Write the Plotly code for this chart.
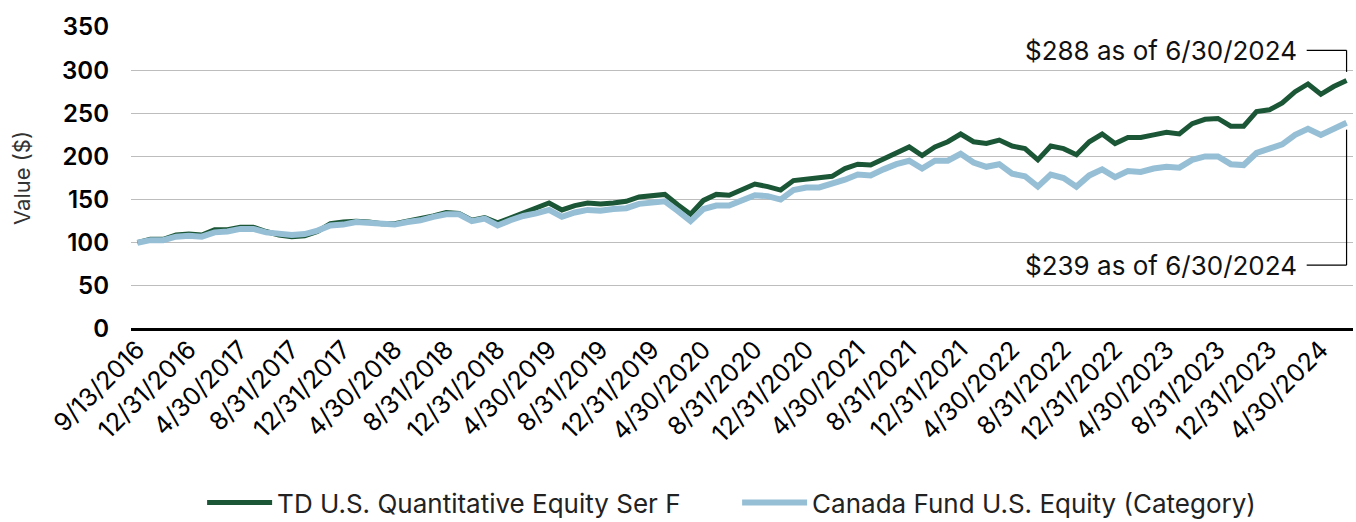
import pandas as pd
import plotly.graph_objects as go

# Category axis: inception date, then month-ends
dates = ["9/13/2016"] + [f"{d.month}/{d.day}/{d.year}" for d in
                         pd.date_range("2016-09-30", "2024-06-30", freq="ME")]

fund_name = "TD U.S. Quantitative Equity Ser F"
cat_name = "Canada Fund U.S. Equity (Category)"

fund_values = [
    100, 104, 104, 109, 110, 109, 115, 115, 118, 118, 113, 109, 107, 108, 113, 122,
    124, 125, 124, 122, 122, 125, 127, 131, 135, 134, 126, 129, 123, 129, 135,
    140, 146, 138, 143, 146, 145, 146, 148, 153, 154, 156, 144, 133, 149, 156, 155, 162,
    168, 165, 161, 172, 174, 175, 177, 186, 191, 190, 197, 204, 211, 201, 211,
    217, 226, 217, 215, 219, 212, 209, 196, 212, 209, 202, 217, 226, 215, 222, 222,
    225, 228, 226, 238, 243, 244, 235, 235, 252, 254, 262, 275, 284, 272, 281, 288,
]
category_values = [
    100, 103, 103, 107, 108, 107, 112, 113, 116, 116, 112, 110, 109, 110, 114, 120,
    121, 124, 123, 121, 121, 124, 126, 130, 133, 133, 125, 128, 120, 126, 131,
    134, 138, 130, 135, 138, 137, 139, 140, 145, 146, 148, 137, 125, 139, 143, 143, 149,
    155, 154, 150, 161, 164, 164, 168, 173, 179, 178, 185, 191, 195, 186, 195,
    195, 203, 193, 188, 191, 180, 177, 165, 179, 175, 165, 178, 185, 176, 183, 182,
    186, 188, 187, 196, 200, 200, 191, 190, 204, 209, 214, 225, 232, 225, 232, 239,
]

tick_labels = dates[::4]
y_ticks = [0, 50, 100, 150, 200, 250, 300, 350]

GREEN = "#1B5636"
BLUE = "#96BFD6"
FONT = "Inter"

fig = go.Figure()
fig.add_trace(go.Scatter(x=dates, y=fund_values, name=fund_name, mode="lines",
                         line=dict(color=GREEN, width=5), hoverinfo="skip"))
fig.add_trace(go.Scatter(x=dates, y=category_values, name=cat_name, mode="lines",
                         line=dict(color=BLUE, width=6), hoverinfo="skip"))

n = len(dates)
last = n - 1
# connector positions as fractions of the x domain (category centres)
end_dom = (last + 0.5) / n
start_dom = (last - 3.1 + 0.5) / n
fund_last = fund_values[-1]
cat_last = category_values[-1]
upper_y = 323
lower_y = 74

for ypos, yend in [(upper_y, fund_last + 10), (lower_y, cat_last - 8)]:
    fig.add_shape(type="line", xref="x domain", yref="y", x0=start_dom, x1=end_dom,
                  y0=ypos, y1=ypos, line=dict(color="#000", width=1.2))
    fig.add_shape(type="line", xref="x domain", yref="y", x0=end_dom, x1=end_dom,
                  y0=ypos, y1=yend, line=dict(color="#000", width=1.2))

for val, ypos in [(fund_last, upper_y), (cat_last, lower_y)]:
    fig.add_annotation(x=start_dom, y=ypos, xref="x domain", yref="y", xanchor="right",
                       yanchor="middle", xshift=-8, showarrow=False,
                       text=f"${val} as of {dates[-1]}",
                       font=dict(family=FONT, size=26, color="#111"))

fig.update_layout(
    width=1356, height=522,
    margin=dict(l=131, r=3, t=27, b=193),
    paper_bgcolor="white", plot_bgcolor="white",
    showlegend=True,
    legend=dict(orientation="h", x=0.496, xanchor="center", xref="paper",
                y=0.037, yanchor="middle", yref="container",
                font=dict(family=FONT, size=26, color="#222"), itemwidth=65,
                entrywidth=455, entrywidthmode="pixels", traceorder="normal"),
    xaxis=dict(type="category", range=[-0.5, last + 0.5], tickmode="array",
               tickvals=tick_labels, ticktext=tick_labels, tickangle=-45,
               showgrid=False, zeroline=False, showline=False, ticks="",
               tickfont=dict(family=FONT, size=25, color="#000"), automargin=False),
    yaxis=dict(range=[0, 350], tickvals=y_ticks, showgrid=True, gridcolor="#BDBDBD",
               gridwidth=1, zeroline=True, zerolinecolor="#000", zerolinewidth=2.5,
               showline=False, ticks="", ticklabelstandoff=21,
               tickfont=dict(family=FONT, size=24, color="#000", weight=600),
               title=dict(text="Value ($)", standoff=25,
                          font=dict(family=FONT, size=22, color="#333")),
               automargin=False),
)

fig.write_html("out.html", config={"displayModeBar": False},
               post_script="document.body.style.margin='0';document.body.style.overflow='hidden';")
